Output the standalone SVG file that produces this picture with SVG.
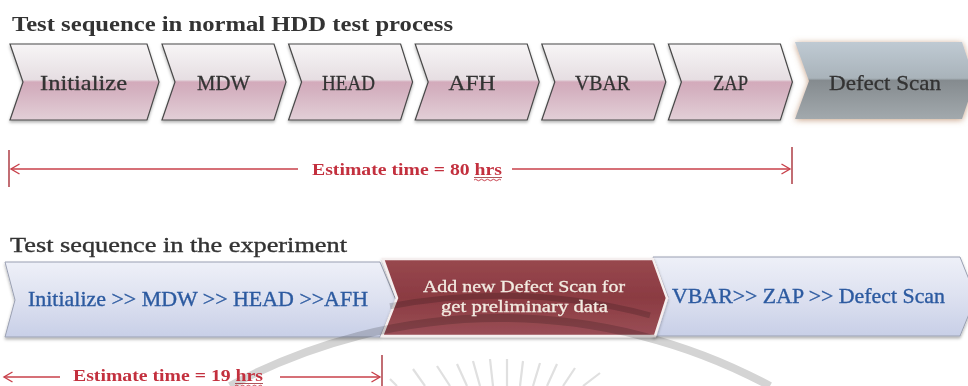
<svg xmlns="http://www.w3.org/2000/svg" width="968" height="386" viewBox="0 0 968 386">
  <defs>
    <style>
      .title { font-family: "Liberation Serif", "Times New Roman", serif; font-size: 20px; fill: #333333; }
      .step { font-family: "Liberation Serif", "Times New Roman", serif; font-size: 22px; fill: #333333; stroke: #333333; stroke-width: 0.3; text-anchor: middle; }
      .flow { font-family: "Liberation Serif", "Times New Roman", serif; font-size: 21px; fill: #2c5aa0; stroke: #2c5aa0; stroke-width: 0.35; }
      .note { font-family: "Liberation Serif", "Times New Roman", serif; font-size: 17px; fill: #f3ece2; stroke: #f3ece2; stroke-width: 0.3; text-anchor: middle; }
      .est { font-family: "Liberation Serif", "Times New Roman", serif; font-size: 16.5px; font-weight: bold; fill: #c3303e; }
      .dim { stroke: #c8404a; stroke-width: 1.3; fill: none; }
      .bar { stroke: #a83038; stroke-width: 1.4; }
      .pink { fill: url(#gPink); stroke: #484848; stroke-width: 1.2; }
      .seal { fill: none; stroke: #d4d4d4; mix-blend-mode: multiply; }
      .ray { stroke: #e0e0e0; stroke-width: 2.2; mix-blend-mode: multiply; }
      .squig { fill: none; stroke: #c3303e; stroke-width: 0.9; }
    </style>
    <linearGradient id="gPink" x1="0" y1="0" x2="0" y2="1">
      <stop offset="0" stop-color="#f7f5f6"/>
      <stop offset="0.47" stop-color="#e6dee2"/>
      <stop offset="0.5" stop-color="#d3aabb"/>
      <stop offset="0.6" stop-color="#d4b0bf"/>
      <stop offset="1" stop-color="#e2cfd7"/>
    </linearGradient>
    <linearGradient id="gGrey" x1="0" y1="0" x2="0" y2="1">
      <stop offset="0" stop-color="#bfcad3"/>
      <stop offset="0.47" stop-color="#a9b3ba"/>
      <stop offset="0.5" stop-color="#858b8f"/>
      <stop offset="1" stop-color="#a2a9ad"/>
    </linearGradient>
    <linearGradient id="gBlue" x1="0" y1="0" x2="0" y2="1">
      <stop offset="0" stop-color="#eef0f8"/>
      <stop offset="0.5" stop-color="#dde1f0"/>
      <stop offset="1" stop-color="#c8cfe7"/>
    </linearGradient>
    <linearGradient id="gRed" x1="0" y1="0" x2="0" y2="1">
      <stop offset="0" stop-color="#98484e"/>
      <stop offset="0.5" stop-color="#8b3b42"/>
      <stop offset="1" stop-color="#9a4e56"/>
    </linearGradient>
    <filter id="shadow" x="-10%" y="-20%" width="120%" height="150%">
      <feDropShadow dx="0" dy="2" stdDeviation="1.5" flood-color="#000000" flood-opacity="0.3"/>
    </filter>
    <filter id="glow" x="-10%" y="-20%" width="120%" height="150%">
      <feDropShadow dx="0" dy="1" stdDeviation="3" flood-color="#b07a52" flood-opacity="0.7"/>
    </filter>
    <marker id="arrow" markerUnits="userSpaceOnUse" markerWidth="12" markerHeight="12" refX="10" refY="6" orient="auto">
      <path d="M1.5,1 L10,6 L1.5,11" fill="none" stroke="#c8404a" stroke-width="1.4"/>
    </marker>
  </defs>

  <rect width="968" height="386" fill="#ffffff"/>

  <!-- headings -->
  <text class="title" x="12" y="31" font-weight="bold" textLength="441" lengthAdjust="spacingAndGlyphs">Test sequence in normal HDD test process</text>
  <text class="title" x="10" y="252" stroke="#333333" stroke-width="0.35" textLength="337" lengthAdjust="spacingAndGlyphs">Test sequence in the experiment</text>

  <!-- normal process: chevron steps -->
  <g id="step-initialize">
    <path class="pink" filter="url(#shadow)" d="M10,44 L147,44 L159,82 L147,120 L10,120 L23,82 Z"/>
    <text class="step" x="83.5" y="90" textLength="87" lengthAdjust="spacingAndGlyphs">Initialize</text>
  </g>
  <g id="step-mdw">
    <path class="pink" filter="url(#shadow)" d="M162,44 L274,44 L286,82 L274,120 L162,120 L175,82 Z"/>
    <text class="step" x="223.5" y="90" textLength="53" lengthAdjust="spacingAndGlyphs">MDW</text>
  </g>
  <g id="step-head">
    <path class="pink" filter="url(#shadow)" d="M288.6,44 L400.6,44 L412.6,82 L400.6,120 L288.6,120 L301.6,82 Z"/>
    <text class="step" x="348.5" y="90" textLength="53" lengthAdjust="spacingAndGlyphs">HEAD</text>
  </g>
  <g id="step-afh">
    <path class="pink" filter="url(#shadow)" d="M415.2,44 L527.2,44 L539.2,82 L527.2,120 L415.2,120 L428.2,82 Z"/>
    <text class="step" x="472" y="90" textLength="47" lengthAdjust="spacingAndGlyphs">AFH</text>
  </g>
  <g id="step-vbar">
    <path class="pink" filter="url(#shadow)" d="M541.8,44 L653.8,44 L665.8,82 L653.8,120 L541.8,120 L554.8,82 Z"/>
    <text class="step" x="602.5" y="90" textLength="55" lengthAdjust="spacingAndGlyphs">VBAR</text>
  </g>
  <g id="step-zap">
    <path class="pink" filter="url(#shadow)" d="M668.4,44 L780.4,44 L792.4,82 L780.4,120 L668.4,120 L681.4,82 Z"/>
    <text class="step" x="730.5" y="90" textLength="35" lengthAdjust="spacingAndGlyphs">ZAP</text>
  </g>
  <g id="step-defect-scan">
    <path filter="url(#glow)" d="M795,42 L962,42 L975,81 L962,119 L795,119 L809,81 Z" fill="url(#gGrey)"/>
    <text class="step" x="885" y="90" textLength="112" lengthAdjust="spacingAndGlyphs">Defect Scan</text>
  </g>

  <!-- experiment sequence -->
  <g id="phase-first">
    <path filter="url(#shadow)" d="M5,262 L380,262 L396,300 L380,337 L5,337 L15,300 Z" fill="url(#gBlue)" stroke="#9aa0b2" stroke-width="1"/>
    <text class="flow" x="28" y="306" textLength="340" lengthAdjust="spacingAndGlyphs">Initialize &gt;&gt; MDW &gt;&gt; HEAD &gt;&gt;AFH</text>
  </g>
  <g id="phase-last">
    <path filter="url(#shadow)" d="M653,257 L960,257 L976,297 L960,336 L653,336 L668,297 Z" fill="url(#gBlue)" stroke="#9aa0b2" stroke-width="1"/>
    <text class="flow" x="672" y="303" textLength="273" lengthAdjust="spacingAndGlyphs">VBAR&gt;&gt; ZAP &gt;&gt; Defect Scan</text>
  </g>
  <g id="phase-new-scan">
    <path filter="url(#shadow)" d="M383,259 L653,259 L667,298 L655,336 L382,336 L397,298 Z" fill="url(#gRed)" stroke="#f5efef" stroke-width="2.5"/>
  </g>

  <!-- faint seal printed over the lower half -->
  <g id="seal">
    <path class="seal" stroke-width="8" d="M230,386 A570,570 0 0 1 770,386"/>
    <path class="seal" stroke-width="6" d="M390,306.3 A592,592 0 0 1 650,315.3"/>
    <line class="ray" x1="390" y1="379" x2="397" y2="386"/>
    <line class="ray" x1="413" y1="369" x2="425" y2="386"/>
    <line class="ray" x1="437" y1="366" x2="450" y2="386"/>
    <line class="ray" x1="457" y1="364" x2="467" y2="386"/>
    <line class="ray" x1="473" y1="361" x2="480" y2="386"/>
    <line class="ray" x1="490" y1="359" x2="493" y2="386"/>
    <line class="ray" x1="507" y1="359" x2="507" y2="386"/>
    <line class="ray" x1="523" y1="361" x2="520" y2="386"/>
    <line class="ray" x1="540" y1="363" x2="533" y2="386"/>
    <line class="ray" x1="557" y1="364" x2="547" y2="386"/>
    <line class="ray" x1="575" y1="368" x2="563" y2="386"/>
    <line class="ray" x1="600" y1="373" x2="583" y2="386"/>
  </g>

  <!-- label of the added step, kept above the seal -->
  <g id="phase-new-scan-label">
    <text class="note" x="524" y="292" textLength="202" lengthAdjust="spacingAndGlyphs">Add new Defect Scan for</text>
    <text class="note" x="524.5" y="312" textLength="167" lengthAdjust="spacingAndGlyphs">get preliminary data</text>
  </g>

  <!-- time spans -->
  <g id="connectors">
    <line class="bar" x1="9" y1="150" x2="9" y2="187"/>
    <line class="bar" x1="792" y1="147" x2="792" y2="184"/>
    <line class="dim" x1="298" y1="169" x2="11" y2="169" marker-end="url(#arrow)"/>
    <line class="dim" x1="512" y1="169" x2="790" y2="169" marker-end="url(#arrow)"/>
    <text class="est" x="312" y="175" textLength="190" lengthAdjust="spacingAndGlyphs">Estimate time = 80 hrs</text>
    <line x1="474" y1="177.5" x2="502" y2="177.5" stroke="#9a2a30" stroke-width="0.8"/>
    <path class="squig" d="M474,180 q1.5,-1.5 3,0 t3,0 t3,0 t3,0 t3,0 t3,0 t3,0 t3,0 t3,0"/>

    <line class="bar" x1="382" y1="355" x2="382" y2="386"/>
    <line class="dim" x1="60" y1="377" x2="4" y2="377" marker-end="url(#arrow)"/>
    <line class="dim" x1="280" y1="377" x2="380" y2="377" marker-end="url(#arrow)"/>
    <text class="est" x="73" y="381" textLength="190" lengthAdjust="spacingAndGlyphs">Estimate time = 19 hrs</text>
    <line x1="235" y1="383.5" x2="263" y2="383.5" stroke="#9a2a30" stroke-width="0.8"/>
    <path class="squig" d="M235,386 q1.5,-1.5 3,0 t3,0 t3,0 t3,0 t3,0 t3,0 t3,0 t3,0 t3,0"/>
  </g>
</svg>
